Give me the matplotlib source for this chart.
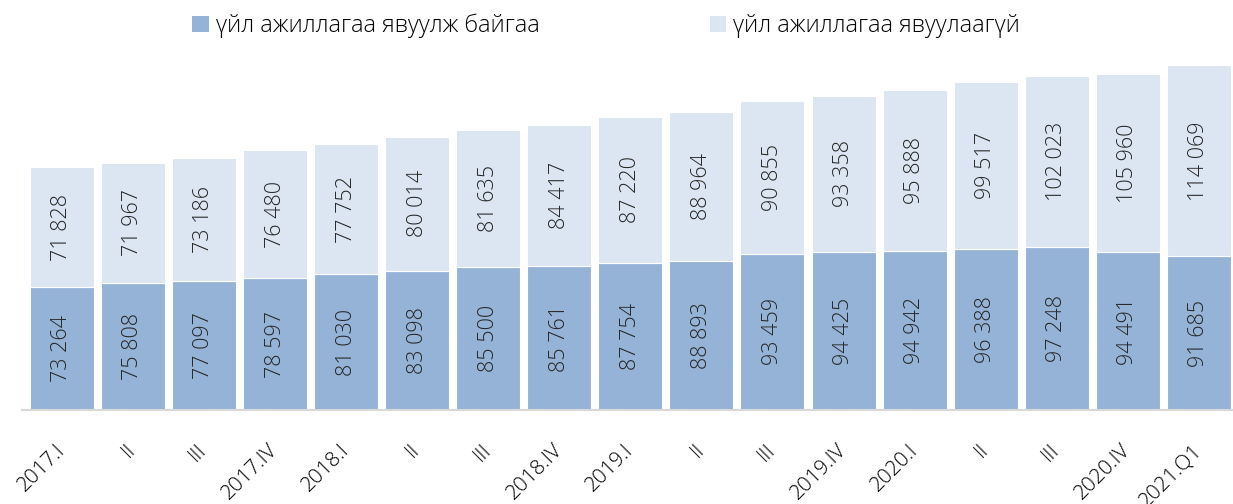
import matplotlib.pyplot as plt
from matplotlib.patches import Patch

categories = ["2017.I", "II", "III", "2017.IV", "2018.I", "II", "III", "2018.IV",
              "2019.I", "II", "III", "2019.IV", "2020.I", "II", "III", "2020.IV", "2021.Q1"]
active = [73264, 75808, 77097, 78597, 81030, 83098, 85500, 85761, 87754,
          88893, 93459, 94425, 94942, 96388, 97248, 94491, 91685]
inactive = [71828, 71967, 73186, 76480, 77752, 80014, 81635, 84417, 87220,
            88964, 90855, 93358, 95888, 99517, 102023, 105960, 114069]
series_names = ["үйл ажиллагаа явуулж байгаа", "үйл ажиллагаа явуулаагүй"]

DARK = "#95B3D7"
LIGHT = "#DCE6F2"
TEXT = "#262626"

plt.rcParams['font.family'] = ['Open Sans', 'DejaVu Sans']
plt.rcParams['font.weight'] = 'light'


def fmt(v):
    return f"{v:,}".replace(",", " ")


fig = plt.figure(figsize=(12.33, 5.04), dpi=100)
ax = fig.add_axes([22 / 1233, 94 / 504, 1 - 22 / 1233, 360 / 504])

x = list(range(len(categories)))
ax.bar(x, active, width=0.9, color=DARK, edgecolor="white", linewidth=0.8)
ax.bar(x, inactive, bottom=active, width=0.9, color=LIGHT, edgecolor="white", linewidth=0.8)

for i in x:
    ax.text(i, active[i] / 2, fmt(active[i]), rotation=90, ha="center", va="center",
            fontsize=15.5, color=TEXT, fontweight="light")
    ax.text(i, active[i] + inactive[i] / 2, fmt(inactive[i]), rotation=90, ha="center",
            va="center", fontsize=15.5, color=TEXT, fontweight="light")

ax.set_xlim(-0.56, 16.48)
ax.set_ylim(0, 215000)
ax.set_xticks(x)
ax.set_xticklabels(categories, rotation=45, ha="right", va="center", rotation_mode="anchor",
                   fontsize=15, color="black", fontweight="light")
ax.tick_params(axis="x", length=0, pad=27)
ax.set_yticks([])
for s in ["top", "right", "left"]:
    ax.spines[s].set_visible(False)
ax.spines["bottom"].set_color("#D9D9D9")
ax.spines["bottom"].set_linewidth(1.5)

handles = [Patch(facecolor=DARK), Patch(facecolor=LIGHT)]
fig.legend(handles, series_names, loc="upper left", bbox_to_anchor=(171 / 1233, 1.015),
           ncol=2, frameon=False, prop={"size": 17, "weight": "light"},
           handlelength=0.7, handleheight=0.7, handletextpad=0.3, columnspacing=7.2)

fig.savefig("out.png", dpi=100)
